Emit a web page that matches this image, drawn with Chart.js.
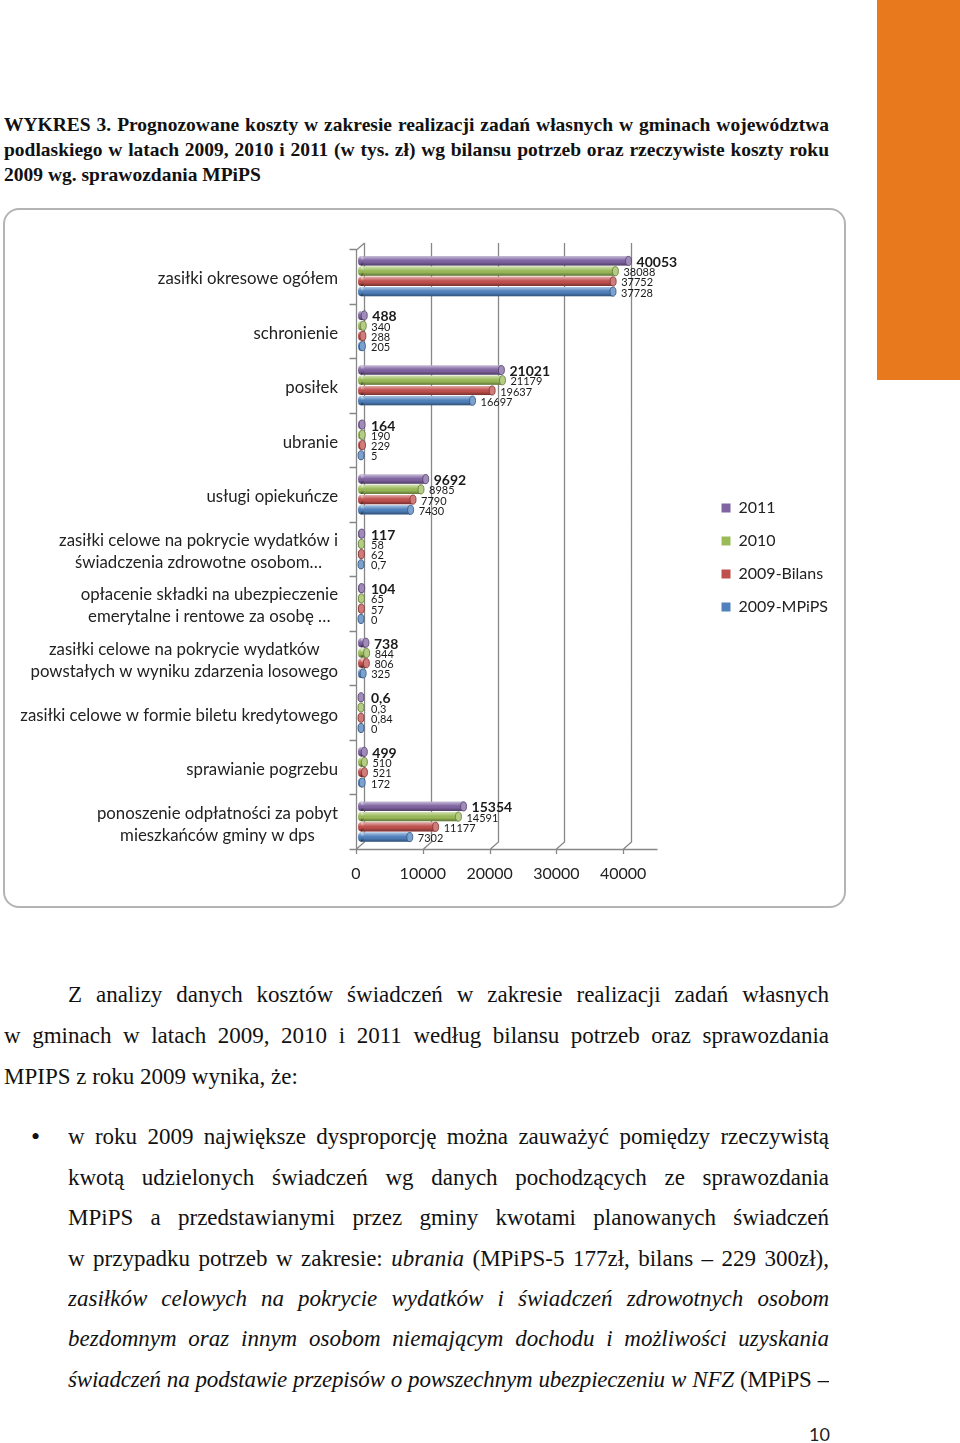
<!DOCTYPE html>
<html lang="pl">
<head>
<meta charset="utf-8">
<title>WYKRES 3</title>
<script src="https://cdn.jsdelivr.net/npm/chart.js@4/dist/chart.umd.min.js"></script>
<style>
  html, body { margin: 0; padding: 0; background: #fff; }
  body { position: relative; width: 960px; height: 1443px; overflow: hidden; color: #111; }
  .orange { position: absolute; left: 877px; top: 0; width: 83px; height: 380px; background: #e8791c; }
  .ln { position: absolute; white-space: nowrap; }
  .ttl { font: bold 19.5px "Liberation Serif", serif; line-height: 25px; left: 4px; width: 825px; }
  .txt { font: 23px "Liberation Serif", serif; line-height: 41px; }
  .jl { text-align: justify; text-align-last: justify; overflow: hidden; }
  .frame { position: absolute; left: 3px; top: 208px; width: 843px; height: 700px; box-sizing: border-box;
           border: 2px solid #b4b4b4; border-radius: 16px; }
  .chartbox { position: absolute; left: 0; top: 208px; width: 850px; height: 700px; }
  .pnum { position: absolute; right: 130px; top: 1423px; font: 18px Lato, sans-serif; color: #222; }
</style>
</head>
<body>
<div class="orange"></div>

<div class="ln ttl jl" style="top:112px">WYKRES 3. Prognozowane koszty w zakresie realizacji zadań własnych w gminach województwa</div>
<div class="ln ttl jl" style="top:137px">podlaskiego w latach 2009, 2010 i 2011 (w tys. zł) wg bilansu potrzeb oraz rzeczywiste koszty roku</div>
<div class="ln ttl" style="top:162px">2009 wg. sprawozdania MPiPS</div>

<div class="frame"></div>
<div class="chartbox"><canvas id="chart"></canvas></div>

<div class="ln txt jl" style="left:68px;width:761px;top:974px">Z analizy danych kosztów świadczeń w zakresie realizacji zadań własnych</div>
<div class="ln txt jl" style="left:4px;width:825px;top:1015px">w gminach w latach 2009, 2010 i 2011 według bilansu potrzeb oraz sprawozdania</div>
<div class="ln txt" style="left:4px;top:1056px">MPIPS z roku 2009 wynika, że:</div>

<div class="ln txt" style="left:31px;top:1116px;font-size:26px">•</div>
<div class="ln txt jl" style="left:68px;width:761px;top:1116px">w roku 2009 największe dysproporcję można zauważyć pomiędzy rzeczywistą</div>
<div class="ln txt jl" style="left:68px;width:761px;top:1157px">kwotą udzielonych świadczeń wg danych pochodzących ze sprawozdania</div>
<div class="ln txt jl" style="left:68px;width:761px;top:1197px">MPiPS a przedstawianymi przez gminy kwotami planowanych świadczeń</div>
<div class="ln txt jl" style="left:68px;width:761px;top:1238px">w przypadku potrzeb w zakresie: <i>ubrania</i> (MPiPS-5 177zł, bilans – 229 300zł),</div>
<div class="ln txt jl" style="left:68px;width:761px;top:1278px"><i>zasiłków celowych na pokrycie wydatków i świadczeń zdrowotnych osobom</i></div>
<div class="ln txt jl" style="left:68px;width:761px;top:1318px"><i>bezdomnym oraz innym osobom niemającym dochodu i możliwości uzyskania</i></div>
<div class="ln txt jl" style="left:68px;width:761px;top:1359px"><i>świadczeń na podstawie przepisów o powszechnym ubezpieczeniu w NFZ</i> (MPiPS –</div>

<div class="pnum">10</div>

<script>
// ── Data ─────────────────────────────────────────────────────────────────────
const CATEGORIES = [
  'zasiłki okresowe ogółem',
  'schronienie',
  'posiłek',
  'ubranie',
  'usługi opiekuńcze',
  ['zasiłki celowe na pokrycie wydatków i', 'świadczenia zdrowotne osobom…'],
  ['opłacenie składki na ubezpieczenie', 'emerytalne i rentowe za osobę …'],
  ['zasiłki celowe na pokrycie wydatków', 'powstałych w wyniku zdarzenia losowego'],
  'zasiłki celowe w formie biletu kredytowego',
  'sprawianie pogrzebu',
  ['ponoszenie odpłatności za pobyt', 'mieszkańców gminy w dps']
];
const SERIES   = ['2011', '2010', '2009-Bilans', '2009-MPiPS'];
const V_2011   = [40053, 488, 21021, 164, 9692, 117, 104, 738, 0.6, 499, 15354];
const V_2010   = [38088, 340, 21179, 190, 8985, 58, 65, 844, 0.3, 510, 14591];
const V_BILANS = [37752, 288, 19637, 229, 7790, 62, 57, 806, 0.84, 521, 11177];
const V_MPIPS  = [37728, 205, 16697, 5, 7430, 0.7, 0, 325, 0, 172, 7302];
const X_TICKS  = [0, 10000, 20000, 30000, 40000];

const COLORS   = ['#8064a2', '#9bbb59', '#c0504d', '#4f81bd'];
const PX_PER_UNIT = 66.8 / 10000;   // horizontal scale of the original picture
const DEPTH_X = 8, DEPTH_Y = 7;     // 3D wall depth
const FONT = 'Lato, "Open Sans", sans-serif';

// ── Helpers ──────────────────────────────────────────────────────────────────
function mix(hex, target, f) {
  const n = parseInt(hex.slice(1), 16);
  const c = [(n >> 16) & 255, (n >> 8) & 255, n & 255].map(v => Math.round(v + (target - v) * f));
  return `rgb(${c[0]},${c[1]},${c[2]})`;
}
const fmt = v => String(v).replace('.', ',');

// ── 3D frame: walls, grid lines and floor ────────────────────────────────────
const frame3d = {
  id: 'frame3d',
  beforeDatasetsDraw(chart) {
    const { ctx, chartArea: a, scales: { x, y } } = chart;
    const front = v => Math.round(x.getPixelForValue(v) - 5) + 0.5;
    const top = a.top, bot = a.bottom;
    ctx.save();
    ctx.strokeStyle = '#878787';
    ctx.lineWidth = 1.3;
    ctx.beginPath();
    // back grid lines with their floor diagonals
    X_TICKS.forEach(v => {
      const f = front(v), b = f + DEPTH_X;
      ctx.moveTo(b, top - DEPTH_Y + 1);
      ctx.lineTo(b, bot - DEPTH_Y);
      ctx.lineTo(f, bot);
      ctx.moveTo(f, bot);
      ctx.lineTo(f, bot + 5);
    });
    // left wall
    const f0 = front(0);
    ctx.moveTo(f0, bot);
    ctx.lineTo(f0, top + 1);
    ctx.lineTo(f0 + DEPTH_X, top - DEPTH_Y + 1);
    // floor
    ctx.moveTo(f0 - 7, bot + 0.5);
    ctx.lineTo(front(45000), bot + 0.5);
    // category tick marks
    const n = CATEGORIES.length;
    for (let i = 0; i <= n; i++) {
      const yy = i === 0 ? top : i === n ? bot
        : (y.getPixelForValue(i - 1) + y.getPixelForValue(i)) / 2;
      ctx.moveTo(f0 - 7, Math.round(yy) + 0.5);
      ctx.lineTo(f0, Math.round(yy) + 0.5);
    }
    ctx.stroke();
    ctx.restore();
  }
};

// ── Cylinder shading, end caps and value labels ──────────────────────────────
const cylinders = {
  id: 'cylinders',
  afterDatasetsDraw(chart) {
    const { ctx } = chart;
    ctx.save();
    chart.data.datasets.forEach((ds, di) => {
      const meta = chart.getDatasetMeta(di);
      const col = COLORS[di];
      meta.data.forEach((el, i) => {
        const { x, y, base, height: h } = el.getProps(['x', 'y', 'base', 'height'], true);
        const ry = h / 2;
        // shading over the body
        const g = ctx.createLinearGradient(0, y - ry, 0, y + ry);
        g.addColorStop(0, 'rgba(255,255,255,0.55)');
        g.addColorStop(0.35, 'rgba(255,255,255,0.12)');
        g.addColorStop(0.6, 'rgba(0,0,0,0)');
        g.addColorStop(1, 'rgba(0,0,0,0.38)');
        // rounded start
        ctx.beginPath();
        ctx.ellipse(base, y, 3, ry, 0, 0, Math.PI * 2);
        ctx.fillStyle = col;
        ctx.fill();
        ctx.fillStyle = g;
        ctx.fill();
        ctx.fillRect(base, y - ry, Math.max(0, x - base), h);
        // end cap
        ctx.beginPath();
        ctx.ellipse(Math.max(x, base), y, 3, ry, 0, 0, Math.PI * 2);
        ctx.fillStyle = mix(col, 255, 0.25);
        ctx.fill();
        ctx.strokeStyle = mix(col, 0, 0.35);
        ctx.lineWidth = 0.8;
        ctx.stroke();
        // value label
        ctx.fillStyle = '#1a1a1a';
        ctx.font = di === 0 ? `bold 14px ${FONT}` : `11px ${FONT}`;
        ctx.textAlign = 'left';
        ctx.textBaseline = 'middle';
        ctx.fillText(fmt(ds.data[i]), Math.max(x, base + 2) + 8, y + 1.5);
      });
    });
    ctx.restore();
  }
};

// ── Category labels: multi-line blocks, lines centred, block right-aligned ──
const catLabels = {
  id: 'catLabels',
  afterDraw(chart) {
    const { ctx, scales: { y } } = chart;
    const right = 338, lh = 22;
    ctx.save();
    ctx.font = `16.8px ${FONT}`;
    ctx.fillStyle = '#222';
    ctx.textBaseline = 'middle';
    ctx.textAlign = 'center';
    CATEGORIES.forEach((lab, i) => {
      const lines = Array.isArray(lab) ? lab : [lab];
      const w = Math.max(...lines.map(l => ctx.measureText(l).width));
      const cx = right - w / 2;
      const cy = y.getPixelForValue(i) + 2.5;
      lines.forEach((l, k) => ctx.fillText(l, cx, cy + (k - (lines.length - 1) / 2) * lh));
    });
    ctx.restore();
  }
};

// ── Chart ────────────────────────────────────────────────────────────────────
new Chart(document.getElementById('chart'), {
  type: 'bar',
  data: {
    labels: CATEGORIES,
    datasets: [V_2011, V_2010, V_BILANS, V_MPIPS].map((d, i) => ({
      label: SERIES[i],
      data: d,
      backgroundColor: COLORS[i],
      borderWidth: 0,
      categoryPercentage: 0.75,
      barPercentage: 0.9
    }))
  },
  options: {
    indexAxis: 'y',
    responsive: true,
    maintainAspectRatio: false,
    animation: false,
    layout: { padding: { top: 41, right: 12, bottom: 0, left: 0 } },
    plugins: {
      legend: {
        position: 'right',
        fullSize: false,
        title: { display: true, text: '', font: { size: 10 }, padding: { top: 0, bottom: 5 } },
        labels: {
          boxWidth: 9, boxHeight: 9, padding: 17,
          color: '#222', font: { family: FONT, size: 16 }
        }
      },
      tooltip: { callbacks: { label: c => ` ${c.dataset.label}: ${fmt(c.raw)}` } }
    },
    scales: {
      x: {
        type: 'linear',
        bounds: 'data',
        afterDataLimits(s) { s.min = 0; s.max = s.width / PX_PER_UNIT; },
        afterBuildTicks(s) { s.ticks = X_TICKS.map(v => ({ value: v })); },
        afterFit(s) { s.height = 59; },
        grid: { display: false, drawTicks: false },
        border: { display: false },
        ticks: {
          padding: 15, labelOffset: -5, color: '#222',
          font: { family: FONT, size: 16 },
          callback: v => String(v)
        }
      },
      y: {
        afterFit(s) { s.width = 361; },
        grid: { display: false },
        border: { display: false },
        ticks: { display: false }
      }
    }
  },
  plugins: [frame3d, cylinders, catLabels]
});

// squeeze justified lines that are a little too long
document.querySelectorAll('.jl').forEach(el => {
  let ls = 0;
  while (el.scrollWidth > el.clientWidth + 1 && ls > -1.5) {
    ls -= 0.1;
    el.style.letterSpacing = ls.toFixed(1) + 'px';
  }
});
</script>
</body>
</html>
